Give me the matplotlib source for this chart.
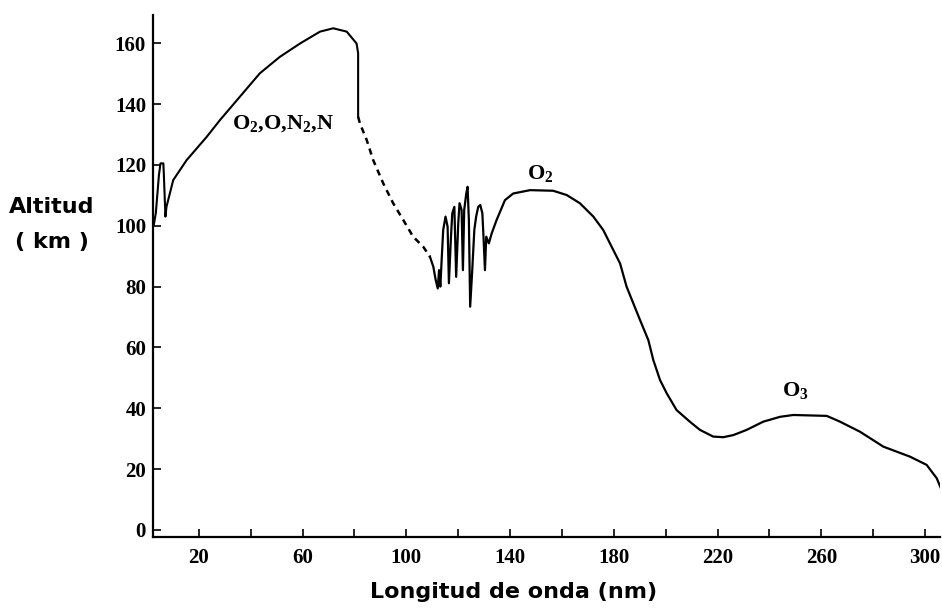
import matplotlib
matplotlib.use('Agg')
import matplotlib.pyplot as plt
import matplotlib.ticker as ticker

# subscripts in the same bold serif as the labels
plt.rcParams['mathtext.fontset'] = 'custom'
plt.rcParams['mathtext.rm'] = 'Liberation Serif:bold'
plt.rcParams['mathtext.it'] = 'Liberation Serif:bold'
plt.rcParams['mathtext.bf'] = 'Liberation Serif:bold'

# wavelength (nm) and altitude (km)
# first solid part, up to ~82 nm
wl_a = [2.6, 3.4, 4.6, 5.2, 6.3, 6.5, 7.1, 7.5, 10.1, 15.3, 23.0, 28.1, 35.8,
        43.5, 51.2, 59.0, 66.7, 71.8, 77.0, 80.8, 81.4, 81.4]
alt_a = [100.2, 104.2, 116.7, 120.5, 120.5, 116.7, 103.0, 106.2, 115.0, 121.6,
         129.2, 134.7, 142.4, 150.1, 155.5, 159.9, 163.8, 164.9, 163.8, 159.9,
         156.7, 135.8]

# dashed part
wl_b = [81.4, 82.1, 84.7, 87.2, 91.1, 94.9, 98.8, 102.6, 106.5, 109.1]
alt_b = [135.8, 133.6, 128.2, 121.6, 113.9, 107.4, 101.9, 96.4, 93.1, 89.8]

# band structure + O2 and O3 humps
wl_c = [109.1, 110.4, 111.3, 112.1, 112.6, 113.1, 113.6, 114.2, 115.1, 115.9,
        116.4, 117.2, 117.7, 118.5, 119.2, 120.0, 120.5, 121.3, 121.8, 122.3,
        123.1, 123.6, 124.1, 124.6, 125.4, 126.2, 126.9, 127.7, 128.5, 129.3,
        129.8, 130.3, 130.8, 131.8, 132.9, 134.8, 138.0, 141.2, 147.7, 156.6,
        161.8, 166.9, 172.1, 175.9, 179.8, 182.4, 184.9, 187.5, 190.1, 193.3,
        195.2, 197.8, 200.4, 204.2, 209.3, 213.2, 218.3, 222.2, 226.1, 231.2,
        237.6, 244.1, 249.2, 262.1, 267.2, 274.9, 283.9, 294.2, 300.6, 304.5,
        306.4]
alt_c = [89.8, 86.5, 82.2, 79.4, 85.4, 80.0, 88.7, 98.6, 103.0, 99.7,
         81.1, 96.4, 104.1, 106.2, 83.2, 100.8, 107.4, 105.2, 85.4, 105.2,
         110.6, 112.8, 101.9, 73.4, 85.4, 98.6, 103.0, 106.2, 106.8, 104.1,
         95.3, 85.4, 96.4, 94.2, 97.5, 101.9, 108.4, 110.6, 111.7, 111.5,
         110.1, 107.4, 103.0, 98.6, 92.0, 87.6, 80.0, 74.5, 69.0, 62.4,
         55.9, 49.3, 44.9, 39.4, 35.6, 32.9, 30.7, 30.5, 31.2, 32.9,
         35.6, 37.2, 37.8, 37.5, 35.6, 32.3, 27.4, 24.1, 21.4, 17.0,
         13.1]

x_major = [20, 60, 100, 140, 180, 220, 260, 300]
x_minor = [40, 80, 120, 160, 200, 240, 280]
y_ticks = [0, 20, 40, 60, 80, 100, 120, 140, 160]

# labels: (text, wavelength, altitude)
species = [('O$_2$,O,N$_2$,N', 52.4, 133.7),
           ('O$_2$', 151.5, 117.3),
           ('O$_3$', 249.8, 46.0)]

fig = plt.figure(figsize=(9.42, 6.08), dpi=100)
ax = fig.add_axes([0.1624, 0.1168, 0.8356, 0.8582])

ax.plot(wl_a, alt_a, color='black', lw=1.5)
ax.plot(wl_b, alt_b, color='black', lw=1.8, linestyle=(0, (2.5, 2)))
ax.plot(wl_c, alt_c, color='black', lw=1.6)

for txt, xx, yy in species:
    ax.text(xx, yy, txt, fontsize=16, fontfamily='Liberation Serif',
            fontweight='bold', ha='center', va='center')

ax.set_xlim(2.3, 305.8)
ax.set_ylim(-2.3, 169.2)

ax.spines['top'].set_visible(False)
ax.spines['right'].set_visible(False)
ax.spines['left'].set_linewidth(1.6)
ax.spines['bottom'].set_linewidth(1.6)

ax.xaxis.set_major_locator(ticker.FixedLocator(x_major))
ax.xaxis.set_minor_locator(ticker.FixedLocator(x_minor))
ax.yaxis.set_major_locator(ticker.FixedLocator(y_ticks))
ax.tick_params(axis='both', which='both', direction='in', length=6, width=1.2)
ax.tick_params(axis='x', pad=8)
ax.tick_params(axis='y', pad=5)

for lab in ax.get_xticklabels() + ax.get_yticklabels():
    lab.set_fontfamily('Liberation Serif')
    lab.set_fontweight('bold')
    lab.set_fontsize(15)

fig.text(52 / 942, 1 - 207 / 608, 'Altitud', fontsize=16, fontweight='bold',
         ha='center', va='center')
fig.text(52 / 942, 1 - 242 / 608, '( km )', fontsize=16, fontweight='bold',
         ha='center', va='center')
fig.text(514 / 942, 1 - 592 / 608, 'Longitud de onda (nm)', fontsize=16,
         fontweight='bold', ha='center', va='center')

fig.savefig('out.png', dpi=100)
